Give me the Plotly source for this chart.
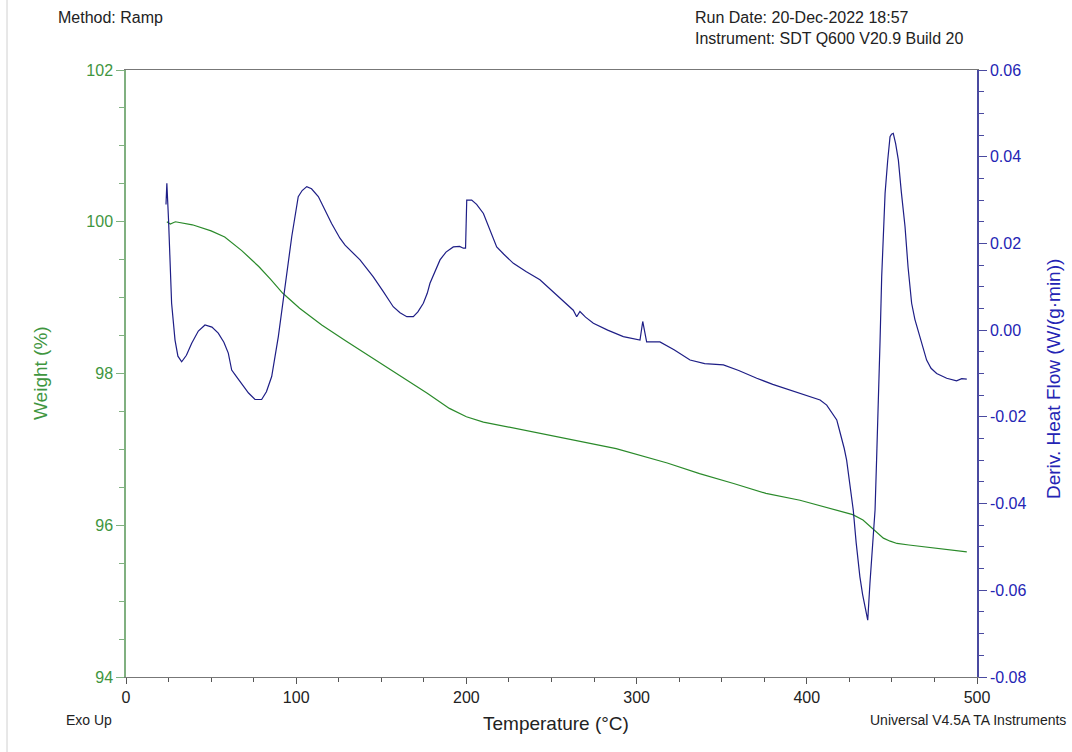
import plotly.graph_objects as go

# Weight (%) vs temperature (°C)
temp_w = [24, 26, 29, 39, 50, 58, 68, 78, 85, 92, 102, 115, 129, 145, 161, 177, 190, 200, 210,
          230, 249, 270, 288, 318, 337, 357, 376, 396, 409, 418, 427, 433, 436, 439, 442, 445,
          449, 453, 460, 467, 480, 494]
weight = [100.00, 99.97, 100.00, 99.96, 99.88, 99.80, 99.62, 99.41, 99.24, 99.06, 98.86, 98.64,
          98.43, 98.20, 97.96, 97.74, 97.54, 97.43, 97.36, 97.27, 97.19, 97.10, 97.01, 96.82,
          96.68, 96.55, 96.42, 96.33, 96.25, 96.20, 96.14, 96.07, 96.01, 95.94, 95.88, 95.83,
          95.79, 95.76, 95.74, 95.72, 95.68, 95.65]

# Deriv. Heat Flow (W/(g·min)) vs temperature (°C)
temp_h = [23.5, 24.0, 25.0, 26.8, 28.8, 30.5, 32.7, 35.5, 38.6, 42.5, 46.4, 50.5, 54.2, 57.5,
          60.1, 62.1, 65.0, 68.0, 72.0, 75.8, 79.7, 82.5, 85.6, 89.5, 93.4, 97.4, 101.2, 103.5,
          106.2, 109.0, 113.0, 116.5, 120.8, 125.7, 128.7, 137.5, 145.3, 151.0, 157.0, 161.0,
          165.0, 168.8, 171.5, 174.7, 177.0, 178.6, 184.5, 188.0, 192.3, 196.0, 198.2, 199.5,
          200.2, 203.1, 206.0, 210.0, 214.0, 217.8, 222.0, 227.6, 235.0, 243.2, 253.0, 262.8,
          264.8, 266.7, 270.0, 274.6, 283.0, 292.2, 302.0, 303.6, 305.9, 313.7, 322.0, 331.4,
          340.0, 351.0, 360.0, 370.6, 380.0, 390.0, 400.0, 407.8, 411.7, 414.5, 417.6, 419.0,
          420.5, 422.0, 423.4, 425.3, 427.3, 429.0, 431.2, 432.8, 434.2, 435.8, 437.1, 438.5,
          440.1, 441.0, 442.0, 443.0, 444.0, 445.0, 446.0, 447.5, 448.9, 449.8, 450.8, 452.2,
          453.8, 455.5, 457.7, 459.5, 461.6, 463.5, 466.5, 468.5, 470.4, 473.0, 476.3, 482.2,
          488.0, 491.0, 494.0]
heat_flow = [0.0290, 0.0339, 0.0254, 0.0062, -0.0023, -0.0060, -0.0073, -0.0058, -0.0030,
             -0.0002, 0.0012, 0.0007, -0.0007, -0.0028, -0.0053, -0.0092, -0.0108, -0.0123,
             -0.0145, -0.0160, -0.0160, -0.0142, -0.0107, -0.0015, 0.0100, 0.0216, 0.0308,
             0.0322, 0.0331, 0.0326, 0.0308, 0.0280, 0.0246, 0.0212, 0.0196, 0.0162, 0.0123,
             0.0090, 0.0054, 0.0040, 0.0031, 0.0031, 0.0042, 0.0062, 0.0085, 0.0108, 0.0162,
             0.0180, 0.0192, 0.0193, 0.0189, 0.0189, 0.0300, 0.0300, 0.0290, 0.0269, 0.0230,
             0.0192, 0.0175, 0.0154, 0.0135, 0.0116, 0.0081, 0.0046, 0.0031, 0.0043, 0.0030,
             0.0016, 0.0000, -0.0015, -0.0023, 0.0020, -0.0027, -0.0027, -0.0045, -0.0069,
             -0.0077, -0.0080, -0.0093, -0.0111, -0.0125, -0.0138, -0.0150, -0.0161, -0.0173,
             -0.0188, -0.0207, -0.0228, -0.0250, -0.0273, -0.0300, -0.0355, -0.0415, -0.0490,
             -0.0569, -0.0610, -0.0638, -0.0669, -0.0584, -0.0500, -0.0415, -0.0300, -0.0184,
             -0.0030, 0.0123, 0.0220, 0.0316, 0.0390, 0.0446, 0.0452, 0.0454, 0.0430, 0.0392,
             0.0320, 0.0239, 0.0145, 0.0062, 0.0025, -0.0015, -0.0045, -0.0069, -0.0088,
             -0.0100, -0.0111, -0.0117, -0.0112, -0.0113]

x_ticks = [0, 100, 200, 300, 400, 500]
w_ticks = [94, 96, 98, 100, 102]
h_ticks = [-0.08, -0.06, -0.04, -0.02, 0.00, 0.02, 0.04, 0.06]
h_tick_text = ["-0.08", "-0.06", "-0.04", "-0.02", "0.00", "0.02", "0.04", "0.06"]

GREEN_LINE = "#2a8a2a"
GREEN_TXT = "#3f963f"
GREEN_AXIS = "#80b080"
BLUE_LINE = "#1e1e86"
BLUE_TXT = "#2424b4"
BLUE_AXIS = "#4a4aa0"
FONT = "Liberation Sans, Arial, sans-serif"

fig = go.Figure()
fig.add_trace(go.Scatter(x=temp_w, y=weight, mode="lines", line=dict(color=GREEN_LINE, width=1.2),
                         name="Weight", yaxis="y"))
fig.add_trace(go.Scatter(x=temp_h, y=heat_flow, mode="lines", line=dict(color=BLUE_LINE, width=1.2),
                         name="Deriv. Heat Flow", yaxis="y2"))

fig.update_layout(
    width=1072, height=752,
    margin=dict(l=126, r=95, t=70, b=75),
    paper_bgcolor="white", plot_bgcolor="white",
    showlegend=False,
    font=dict(family=FONT, size=16, color="#222"),
    xaxis=dict(range=[0, 500], tickvals=x_ticks, ticks="outside", ticklen=6, tickcolor="#555",
               showline=True, linecolor="#777", linewidth=1, mirror=True,
               showgrid=False, zeroline=False,
               tickfont=dict(size=16, color="#222"),
               minor=dict(dtick=25, ticks="outside", ticklen=4, tickcolor="#555")),
    yaxis=dict(range=[94, 102], tickvals=w_ticks, ticks="outside", ticklen=8, tickcolor=GREEN_AXIS,
               showline=True, linecolor=GREEN_AXIS, linewidth=1.5,
               showgrid=False, zeroline=False,
               tickfont=dict(size=16, color=GREEN_TXT),
               minor=dict(dtick=0.5, ticks="outside", ticklen=5, tickcolor=GREEN_AXIS)),
    yaxis2=dict(range=[-0.08, 0.06], tickvals=h_ticks, ticktext=h_tick_text, overlaying="y",
                side="right", ticks="outside", ticklen=8, tickcolor=BLUE_AXIS,
                showline=True, linecolor=BLUE_AXIS, linewidth=1.5,
                showgrid=False, zeroline=False,
                tickfont=dict(size=16, color=BLUE_TXT),
                minor=dict(dtick=0.005, ticks="outside", ticklen=5, tickcolor=BLUE_AXIS)),
)

def px_x(px):
    return (px - 126) / 851.0

def px_y(py):
    return (677 - py) / 607.0

annots = [
    dict(text="Method: Ramp", x=px_x(56), y=px_y(18), xanchor="left", yanchor="middle", font=dict(size=16, color="#222")),
    dict(text="Run Date: 20-Dec-2022 18:57", x=px_x(693), y=px_y(18), xanchor="left", yanchor="middle", font=dict(size=16, color="#222")),
    dict(text="Instrument: SDT Q600 V20.9 Build 20", x=px_x(693), y=px_y(38), xanchor="left", yanchor="middle", font=dict(size=16, color="#222")),
    dict(text="Exo Up", x=px_x(64), y=px_y(720), xanchor="left", yanchor="middle", font=dict(size=14, color="#222")),
    dict(text="Universal V4.5A TA Instruments", x=px_x(1068), y=px_y(720), xanchor="right", yanchor="middle", font=dict(size=14, color="#222")),
    dict(text="Temperature (°C)", x=px_x(556), y=px_y(723), xanchor="center", yanchor="middle", font=dict(size=19, color="#222")),
    dict(text="Weight (%)", x=px_x(40), y=px_y(373), xanchor="center", yanchor="middle", textangle=-90, font=dict(size=19, color=GREEN_TXT)),
    dict(text="Deriv. Heat Flow (W/(g·min))", x=px_x(1053), y=px_y(379), xanchor="center", yanchor="middle", textangle=-90, font=dict(size=19, color=BLUE_TXT)),
]
for a in annots:
    a.update(xref="paper", yref="paper", showarrow=False)
fig.update_layout(annotations=annots)

fig.add_shape(type="line", xref="paper", yref="paper", x0=px_x(7), x1=px_x(7), y0=px_y(0), y1=px_y(752),
              line=dict(color="#d0d0d0", width=1))

fig.write_html("out.html")
